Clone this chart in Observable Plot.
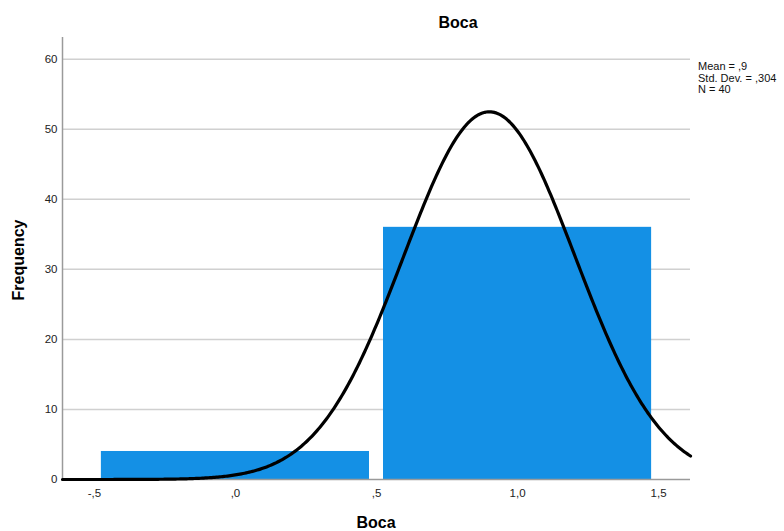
<!DOCTYPE html>
<html>
<head>
<meta charset="utf-8">
<script src="https://cdn.jsdelivr.net/npm/d3@7"></script>
<script src="https://cdn.jsdelivr.net/npm/@observablehq/plot@0.6"></script>
<style>
  html, body { margin: 0; padding: 0; background: #fff; }
  #chart svg { display: block; }
</style>
</head>
<body>
<div id="chart"></div>
<script>
// ---- data ----
const binStart = [-0.5, 0.5];
const binEnd = [0.5, 1.5];
const frequency = [4, 36];
const statMean = 0.9;
const statSD = 0.304;
const statN = 40;
const xTicks = [-0.5, 0, 0.5, 1, 1.5];
const xTickLabels = ["-,5", ",0", ",5", "1,0", "1,5"];
const yTicks = [0, 10, 20, 30, 40, 50, 60];
const statLines = ["Mean = ,9", "Std. Dev. = ,304", "N = 40"];
const titleText = "Boca";
const xLabel = "Boca";
const yLabel = "Frequency";

const xDomain = [-0.613, 1.613];
const yDomain = [0, 63.1];

const bins = binStart.map((s, i) => ({x1: s, x2: binEnd[i], y: frequency[i]}));
const binWidth = binEnd[0] - binStart[0];

// normal curve defined by the stated mean, sd and N
const curve = d3.range(0, 401).map(i => {
  const x = xDomain[0] + (xDomain[1] - xDomain[0]) * i / 400;
  const z = (x - statMean) / statSD;
  return {x, y: statN * binWidth * Math.exp(-0.5 * z * z) / (statSD * Math.sqrt(2 * Math.PI))};
});

const W = 784, H = 531;
const font = "'Liberation Sans', Arial, sans-serif";

const chart = Plot.plot({
  width: W,
  height: H,
  marginLeft: 62,
  marginRight: 94,
  marginTop: 37,
  marginBottom: 52,
  style: {fontFamily: font, fontSize: "11px", color: "#222", background: "#fff"},
  x: {domain: xDomain},
  y: {domain: yDomain},
  marks: [
    Plot.ruleY(yTicks.filter(d => d > 0), {stroke: "#d0d0d0", strokeWidth: 1.5}),
    Plot.rectY(bins, {x1: "x1", x2: "x2", y: "y", fill: "#1490e5", insetLeft: 7, insetRight: 7}),
    Plot.ruleX([xDomain[0]], {y1: 0, y2: yDomain[1], stroke: "#9a9a9a", strokeWidth: 1.5}),
    Plot.ruleY([0], {stroke: "#9a9a9a", strokeWidth: 1.5}),
    Plot.line(curve, {x: "x", y: "y", stroke: "#000", strokeWidth: 3.2}),
    Plot.axisY(yTicks, {tickSize: 0, tickPadding: 5, label: null, fontSize: 11.5}),
    Plot.axisX(xTicks, {tickSize: 0, tickPadding: 9, label: null, fontSize: 11.5,
      tickFormat: d => xTickLabels[xTicks.indexOf(d)]})
  ]
});

const svg = d3.select(chart);
svg.append("text").attr("x", 458).attr("y", 28).attr("text-anchor", "middle")
  .attr("font-family", font).attr("font-size", 16).attr("font-weight", "bold").attr("fill", "#000")
  .text(titleText);
svg.append("text").attr("x", 376).attr("y", 528).attr("text-anchor", "middle")
  .attr("font-family", font).attr("font-size", 16).attr("font-weight", "bold").attr("fill", "#000")
  .text(xLabel);
svg.append("text").attr("transform", "translate(24,260) rotate(-90)").attr("text-anchor", "middle")
  .attr("font-family", font).attr("font-size", 16).attr("font-weight", "bold").attr("fill", "#000")
  .text(yLabel);
const leg = svg.append("text").attr("font-family", font).attr("font-size", 11)
  .attr("text-anchor", "start").attr("fill", "#111");
statLines.forEach((s, i) => {
  leg.append("tspan").attr("x", 698).attr("y", 70 + i * 11.5).text(s);
});

document.getElementById("chart").appendChild(chart);
</script>
</body>
</html>
